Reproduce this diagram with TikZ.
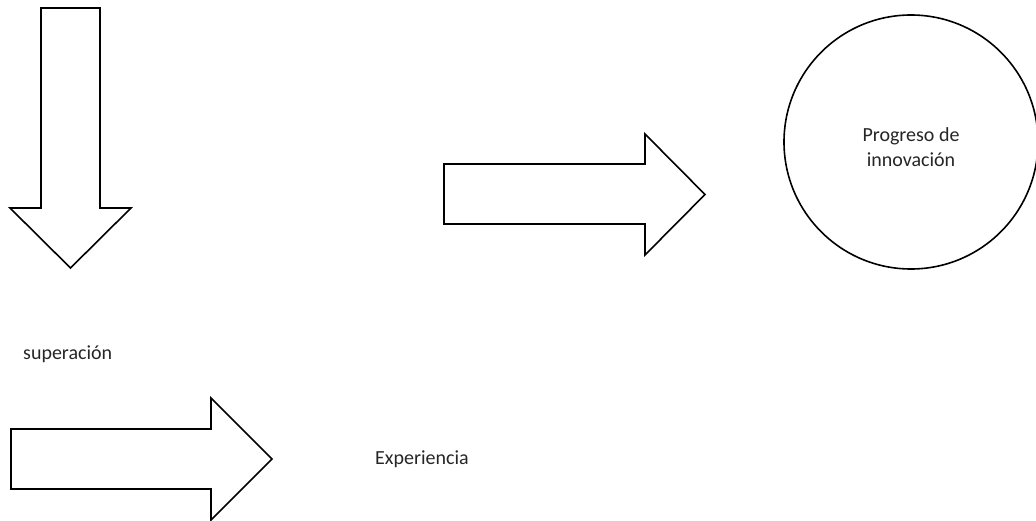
\documentclass[tikz,border=0pt]{standalone}
\usepackage{fontspec}
\setmainfont{Carlito}
\begin{document}
\begin{tikzpicture}[x=1pt,y=-1pt,
  outl/.style={draw=black,line width=1.6pt,fill=white,line join=miter},
  lbl/.style={font=\fontsize{20}{25}\selectfont,text=black!85,inner sep=0pt}]
\useasboundingbox (0,0) rectangle (1036,521);
% down arrow
\draw[outl] (41,8) -- (100,8) -- (100,208) -- (131,208) -- (70.5,268) -- (10,208) -- (41,208) -- cycle;
% middle right arrow
\draw[outl] (444,164) -- (645,164) -- (645,134) -- (705,194.5) -- (645,255) -- (645,224) -- (444,224) -- cycle;
% bottom right arrow
\draw[outl] (11,429) -- (211,429) -- (211,398) -- (272,459) -- (211,520) -- (211,489) -- (11,489) -- cycle;
% circle
\node[outl,circle,minimum size=254pt,inner sep=0pt] (c) at (911,142) {};
\node[lbl,align=center] (ct) at (911,147) {Progreso de\\innovación};
\node[lbl,anchor=base west] (sup) at (23,359) {superación};
\node[lbl,anchor=base west] (exp) at (375,464) {Experiencia};
\end{tikzpicture}
\end{document}
